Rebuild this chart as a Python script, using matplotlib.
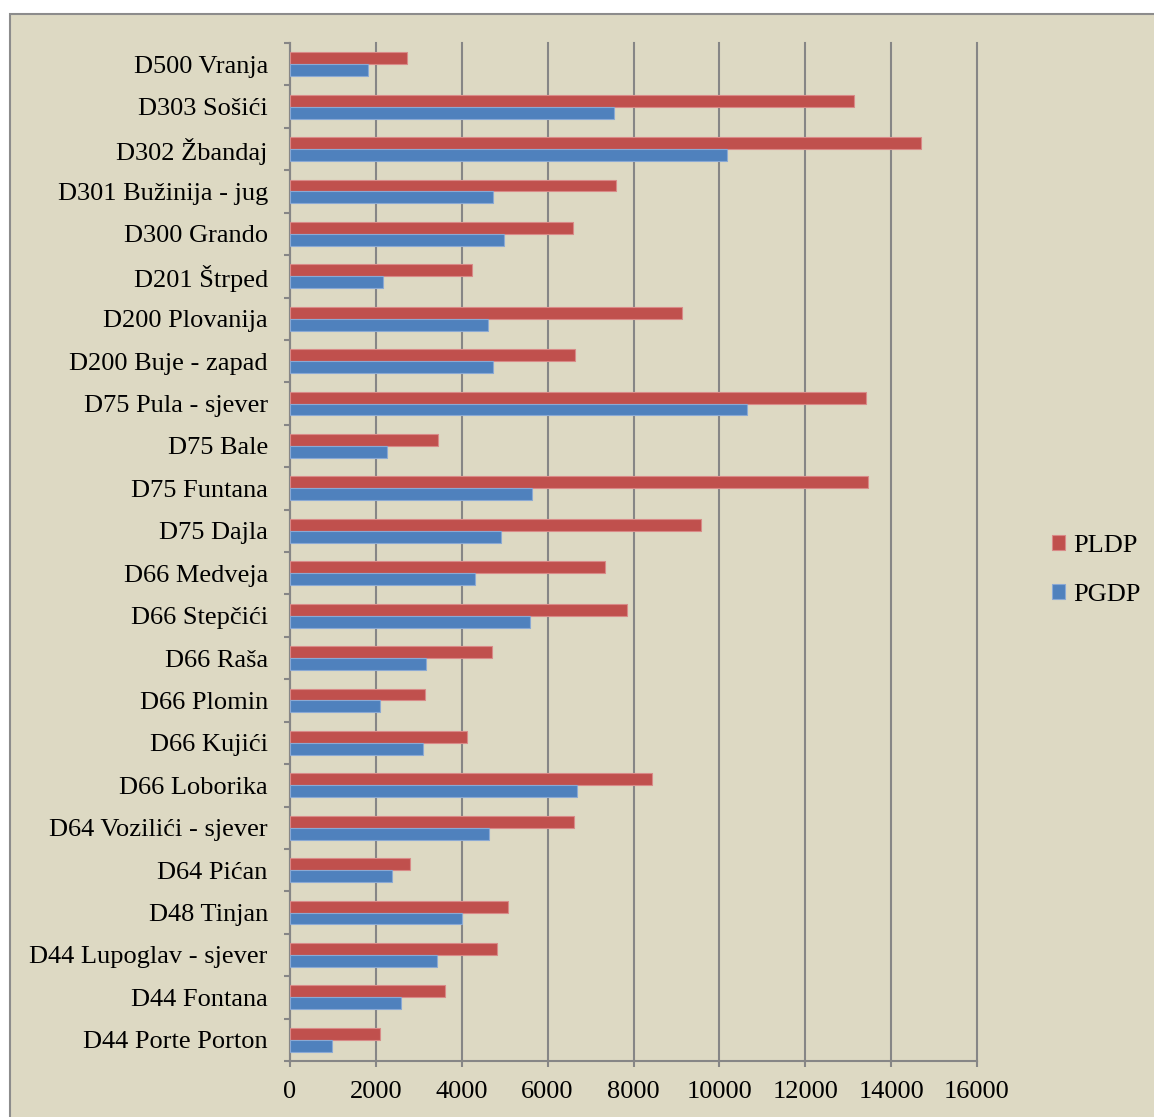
import numpy as np
import matplotlib
matplotlib.use('Agg')
import matplotlib.pyplot as plt
from matplotlib.patches import Rectangle

# Categories, top to bottom as in the chart
stations = ['D500 Vranja', 'D303 Sošići', 'D302 Žbandaj', 'D301 Bužinija - jug',
            'D300 Grando', 'D201 Štrped', 'D200 Plovanija', 'D200 Buje - zapad',
            'D75 Pula - sjever', 'D75 Bale', 'D75 Funtana', 'D75 Dajla',
            'D66 Medveja', 'D66 Stepčići', 'D66 Raša', 'D66 Plomin',
            'D66 Kujići', 'D66 Loborika', 'D64 Vozilići - sjever', 'D64 Pićan',
            'D48 Tinjan', 'D44 Lupoglav - sjever', 'D44 Fontana', 'D44 Porte Porton']
pldp = [2720, 13140, 14700, 7590, 6590, 4240, 9130, 6640,
        13410, 3450, 13460, 9570, 7340, 7850, 4700, 3140,
        4120, 8430, 6610, 2790, 5080, 4820, 3610, 2100]
pgdp = [1820, 7550, 10180, 4730, 4980, 2170, 4610, 4730,
        10640, 2260, 5640, 4910, 4310, 5590, 3170, 2100,
        3100, 6680, 4630, 2380, 4010, 3420, 2590, 980]

bg = '#DDD9C3'
red = '#C0504D'
blue = '#4F81BD'
grid_c = '#868686'

plt.rcParams['font.family'] = ['Liberation Serif', 'DejaVu Serif']

fig = plt.figure(figsize=(11.54, 11.17), dpi=100, facecolor='white')
# chart area with grey border, running off the right and bottom edges
top = 1103 / 1117
fig.patches.append(Rectangle((10 / 1154, -0.05), 1.2, top + 0.05, transform=fig.transFigure,
                             facecolor=bg, edgecolor='#8c8c8c', linewidth=1.5, zorder=-10))

ax = fig.add_axes([290 / 1154, 56 / 1117, 687 / 1154, 1018 / 1117])
ax.set_facecolor(bg)

n = len(stations)
y = np.arange(n)
h = 0.28
ax.barh(y - h / 2, pldp, height=h, color=red, edgecolor='#d98a88', linewidth=0.8, label='PLDP', zorder=3)
ax.barh(y + h / 2, pgdp, height=h, color=blue, edgecolor='#8aa9d4', linewidth=0.8, label='PGDP', zorder=3)

ax.set_ylim(n - 0.5, -0.5)
ax.set_xlim(0, 16000)
ax.set_xticks(np.arange(0, 16001, 2000))
ax.xaxis.grid(True, color=grid_c, linewidth=1.5, zorder=1)
ax.set_axisbelow(True)
for gl in ax.get_xgridlines():
    gl.set_clip_on(False)

ax.set_yticks(y)
ax.set_yticklabels(stations)
ax.set_yticks(np.arange(-0.5, n, 1), minor=True)
ax.tick_params(axis='y', which='major', length=0, pad=16, labelsize=19)
ax.tick_params(axis='y', which='minor', length=4.5, width=1.5, color=grid_c, direction='out')
ax.tick_params(axis='x', length=4.5, width=1.5, color=grid_c, pad=10, labelsize=19)

for s in ['top', 'right']:
    ax.spines[s].set_visible(False)
for s in ['left', 'bottom']:
    ax.spines[s].set_color(grid_c)
    ax.spines[s].set_linewidth(1.5)

ax.legend(loc='center left', bbox_to_anchor=(1.075, 0.482), frameon=False, fontsize=19,
          handlelength=0.5, handleheight=0.5, handletextpad=0.3, labelspacing=1.0)

fig.savefig('out.png', dpi=100, facecolor='white')
